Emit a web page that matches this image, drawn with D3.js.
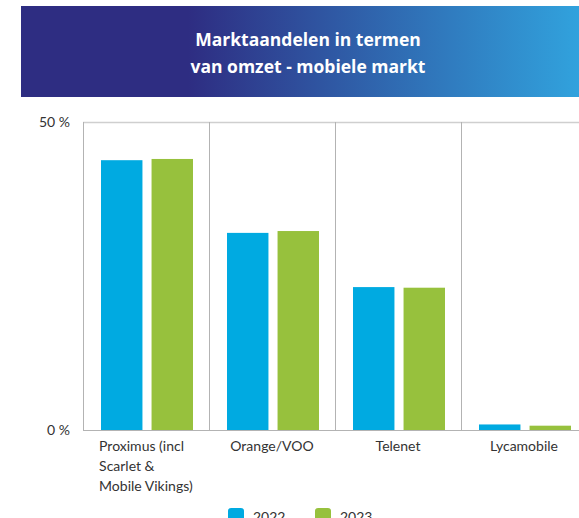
<!DOCTYPE html>
<html>
<head>
<meta charset="utf-8">
<script src="https://cdn.jsdelivr.net/npm/d3@7"></script>
<style>
  body { margin: 0; background: #fff; }
  svg { display: block; font-family: Lato, "Noto Sans", sans-serif; }
</style>
</head>
<body>
<div id="chart"></div>
<script>
// Data
const categories = ["Proximus (incl|Scarlet &|Mobile Vikings)", "Orange/VOO", "Telenet", "Lycamobile"];
const years = ["2022", "2023"];
const values2022 = [43.8, 32.0, 23.2, 0.9];
const values2023 = [44.0, 32.3, 23.1, 0.7];
const yTicks = [0, 50];
const titleLines = ["Marktaandelen in termen", "van omzet - mobiele markt"];
const colors = ["#00aae1", "#97c13d"];

const W = 579, H = 518;
const margin = { top: 122, left: 83, bottom: 88 };
const plotW = 504;
const plotH = H - margin.top - margin.bottom;

const svg = d3.select("#chart")
  .append("svg")
  .attr("width", W)
  .attr("height", H);

// Banner with gradient
const grad = svg.append("defs").append("linearGradient")
  .attr("id", "banner")
  .attr("x1", "0%").attr("x2", "100%");
grad.append("stop").attr("offset", "0%").attr("stop-color", "#2e2d82");
grad.append("stop").attr("offset", "30%").attr("stop-color", "#2e2d82");
grad.append("stop").attr("offset", "100%").attr("stop-color", "#31a2dd");

svg.append("rect")
  .attr("x", 21).attr("y", 6)
  .attr("width", W - 21).attr("height", 91)
  .attr("fill", "url(#banner)");

svg.selectAll("text.title")
  .data(titleLines)
  .enter()
  .append("text")
  .attr("class", "title")
  .attr("x", 308)
  .attr("y", (d, i) => 46 + i * 27)
  .attr("text-anchor", "middle")
  .attr("fill", "#fff")
  .attr("font-family", "'Open Sans', Lato, sans-serif")
  .attr("font-size", 17.5)
  .attr("font-weight", "bold")
  .text(d => d);

const g = svg.append("g")
  .attr("transform", `translate(${margin.left},${margin.top})`);

// Scales
const x = d3.scaleBand()
  .domain(categories)
  .range([0, plotW]);

const x1 = d3.scaleBand()
  .domain(years)
  .range([18, x.bandwidth() - 16])
  .paddingInner(0.18);

const y = d3.scaleLinear()
  .domain([0, 50])
  .range([plotH, 0]);

// Frame: top line, category separators, baseline
g.append("line")
  .attr("x1", 0).attr("x2", plotW)
  .attr("y1", 0.5).attr("y2", 0.5)
  .attr("stroke", "#cfcfcf").attr("stroke-width", 1.5);

g.selectAll("line.sep")
  .data(categories)
  .enter()
  .append("line")
  .attr("class", "sep")
  .attr("x1", d => Math.round(x(d)) + 0.5)
  .attr("x2", d => Math.round(x(d)) + 0.5)
  .attr("y1", 0).attr("y2", plotH)
  .attr("stroke", "#b3b3b3");

g.append("line")
  .attr("x1", 0).attr("x2", plotW)
  .attr("y1", plotH + 0.5).attr("y2", plotH + 0.5)
  .attr("stroke", "#b3b3b3");

// Y tick labels
g.selectAll("text.ytick")
  .data(yTicks)
  .enter()
  .append("text")
  .attr("class", "ytick")
  .attr("x", -13)
  .attr("y", d => y(d) + 5)
  .attr("text-anchor", "end")
  .attr("font-size", 14)
  .attr("fill", "#333")
  .text(d => d + " %");

// Bars
const series = [values2022, values2023];
const groups = g.selectAll("g.cat")
  .data(categories)
  .enter()
  .append("g")
  .attr("class", "cat")
  .attr("transform", d => `translate(${x(d)},0)`);

groups.selectAll("rect")
  .data((d, i) => years.map((yr, k) => ({ yr, v: series[k][i], k })))
  .enter()
  .append("rect")
  .attr("x", d => x1(d.yr))
  .attr("y", d => y(d.v))
  .attr("width", x1.bandwidth())
  .attr("height", d => plotH - y(d.v))
  .attr("fill", d => colors[d.k]);

// Category labels (multi-line, left aligned block centered in band)
groups.each(function (d) {
  const lines = d.split("|");
  const t = d3.select(this).append("text")
    .attr("font-size", 14)
    .attr("fill", "#333");
  lines.forEach((ln, i) => {
    t.append("tspan")
      .attr("x", 0)
      .attr("y", plotH + 21 + i * 20)
      .text(ln);
  });
  const w = t.node().getBBox().width;
  t.attr("transform", `translate(${(x.bandwidth() - w) / 2},0)`);
});

// Legend
const legend = svg.append("g")
  .attr("transform", "translate(228,508)");

const items = legend.selectAll("g")
  .data(years)
  .enter()
  .append("g")
  .attr("transform", (d, i) => `translate(${i * 87},0)`);

items.append("rect")
  .attr("width", 16).attr("height", 16)
  .attr("rx", 3)
  .attr("fill", (d, i) => colors[i]);

items.append("text")
  .attr("x", 25)
  .attr("y", 14)
  .attr("font-size", 14)
  .attr("fill", "#333")
  .text(d => d);
</script>
</body>
</html>
